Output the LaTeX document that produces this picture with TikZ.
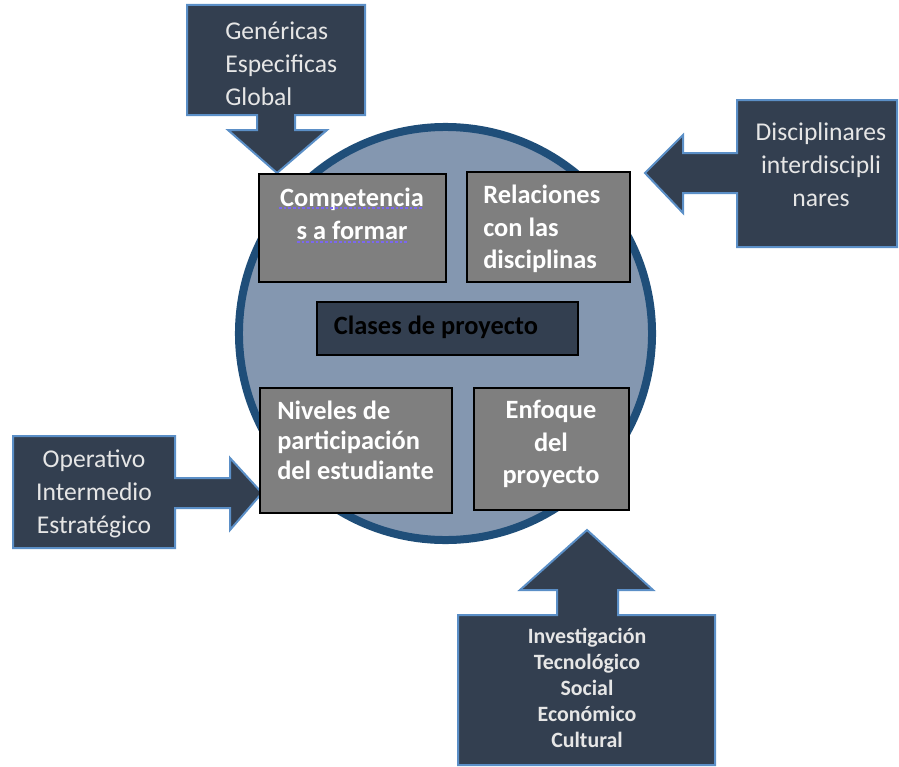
\documentclass[tikz,border=0pt]{standalone}
\usepackage{fontspec}
\setmainfont{Carlito}
\definecolor{navy}{HTML}{333F50}
\definecolor{callborder}{HTML}{5B8FC7}
\definecolor{ringblue}{HTML}{1F4E79}
\definecolor{discfill}{HTML}{8497B0}
\definecolor{boxgray}{HTML}{7F7F7F}
\definecolor{calltext}{HTML}{E6E6E6}
\definecolor{squiggle}{HTML}{7B68EE}
\tikzset{
  callout/.style={fill=navy, draw=callborder, line width=1.5pt, line join=miter},
  graybox/.style={fill=boxgray, draw=black, line width=1pt},
  calltxt/.style={text=calltext, inner sep=0pt, font=\fontsize{19.2}{24.75}\selectfont},
  boxtxt/.style={text=white, inner sep=0pt, font=\bfseries\fontsize{19.8}{24.5}\selectfont},
}
\begin{document}
\begin{tikzpicture}[x=0.75pt, y=-0.75pt]
\useasboundingbox (0,0) rectangle (899,767);
% disc
\draw[fill=discfill, draw=ringblue, line width=6pt] (445.5,333.5) circle[radius=154.9pt];
% callouts
\draw[callout] (187,5) -- (365,5) -- (365,115) -- (295,115) -- (295,130) -- (327,130) -- (277,173) -- (228,130) -- (257,130) -- (257,115) -- (187,115) -- cycle;
\draw[callout] (737,100) -- (897,100) -- (897,247) -- (737,247) -- (737,193) -- (683,193) -- (683,213) -- (645,173) -- (683,135) -- (683,153) -- (737,153) -- cycle;
\draw[callout] (13,436) -- (175,436) -- (175,478) -- (230,478) -- (230,458) -- (262,493) -- (230,530) -- (230,508) -- (175,508) -- (175,548) -- (13,548) -- cycle;
\draw[callout] (458,615) -- (557,615) -- (557,590) -- (520,590) -- (587,530) -- (653,590) -- (618,590) -- (618,615) -- (715,615) -- (715,765) -- (458,765) -- cycle;
% callout texts
\node[calltxt, anchor=west, align=left] (tTop) at (225,64) {Genéricas\\Especificas\\Global};
\node[calltxt, align=center] (tRight) at (821,165) {Disciplinares\\interdiscipli\\nares};
\node[calltxt, align=center] (tLeft) at (94,494) {Operativo\\Intermedio\\Estratégico};
\node[text=calltext, inner sep=0pt, font=\bfseries\fontsize{16.4}{19.5}\selectfont, align=center] (tBottom) at (587,688) {Investigación\\Tecnológico\\Social\\Económico\\Cultural};
% inner boxes
\draw[graybox] (259,174) rectangle (446,282);
\node[boxtxt, align=center] (bComp) at (352,214) {Competencia\\s a formar};
\draw[squiggle, line width=0.8pt, dash pattern=on 2pt off 1.5pt] (279,208) -- (423,208);
\draw[squiggle, line width=0.8pt, dash pattern=on 2pt off 1.5pt] (297,242) -- (407,242);
\draw[graybox] (467,172) rectangle (630,282);
\node[boxtxt, anchor=west, align=left] (bRel) at (483,229) {Relaciones\\con las\\disciplinas};
\draw[fill=navy, draw=black, line width=1pt] (317,302) rectangle (578,355);
\node[boxtxt, text=black] (bClases) at (436,327) {Clases de proyecto};
\draw[graybox] (260,388) rectangle (452,513);
\node[text=white, inner sep=0pt, font=\bfseries\fontsize{19.8}{22.5}\selectfont, anchor=west, align=left] (bNiv) at (277,440) {Niveles de\\participación\\del estudiante};
\draw[graybox] (474,388) rectangle (629,510);
\node[boxtxt, align=center] (bEnf) at (551,444) {Enfoque\\del\\proyecto};
\end{tikzpicture}
\end{document}
